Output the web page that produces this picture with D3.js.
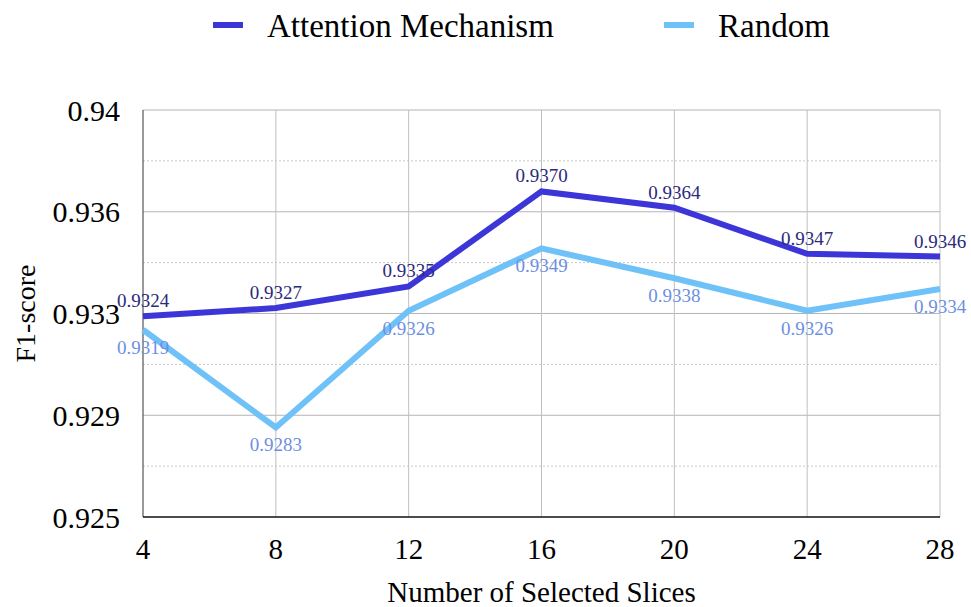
<!DOCTYPE html>
<html>
<head>
<meta charset="utf-8">
<script src="https://cdn.jsdelivr.net/npm/d3@7"></script>
<style>
body { margin: 0; background: #fff; }
svg text { font-family: "Liberation Serif", "Times New Roman", serif; }
</style>
</head>
<body>
<div id="chart"></div>
<script>
// data
var slices = [4, 8, 12, 16, 20, 24, 28];
var attention = [0.9324, 0.9327, 0.9335, 0.9370, 0.9364, 0.9347, 0.9346];
var random = [0.9319, 0.9283, 0.9326, 0.9349, 0.9338, 0.9326, 0.9334];
var yTicks = [0.925, 0.92875, 0.9325, 0.93625, 0.94];
var yTickLabels = ["0.925", "0.929", "0.933", "0.936", "0.94"];
var yMinor = [0.926875, 0.930625, 0.934375, 0.938125];

var width = 971, height = 607;
var plotLeft = 143, plotRight = 940, plotTop = 110, plotBottom = 517;

var svg = d3.select("#chart").append("svg")
	.attr("width", width)
	.attr("height", height);

var x = d3.scaleLinear().domain([4, 28]).range([plotLeft, plotRight]);
var y = d3.scaleLinear().domain([0.925, 0.94]).range([plotBottom, plotTop]);

// minor dotted grid
svg.selectAll("line.minor").data(yMinor).enter().append("line")
	.attr("class", "minor")
	.attr("x1", plotLeft).attr("x2", plotRight)
	.attr("y1", function(d) { return y(d); })
	.attr("y2", function(d) { return y(d); })
	.attr("stroke", "#c8c8c8")
	.attr("stroke-width", 1)
	.attr("stroke-dasharray", "2,2");

// major grid
svg.selectAll("line.hgrid").data(yTicks.slice(1)).enter().append("line")
	.attr("class", "hgrid")
	.attr("x1", plotLeft).attr("x2", plotRight)
	.attr("y1", function(d) { return y(d); })
	.attr("y2", function(d) { return y(d); })
	.attr("stroke", "#b4b4b4")
	.attr("stroke-width", 1);

svg.selectAll("line.vgrid").data(slices.slice(1)).enter().append("line")
	.attr("class", "vgrid")
	.attr("x1", function(d) { return x(d); })
	.attr("x2", function(d) { return x(d); })
	.attr("y1", plotTop).attr("y2", plotBottom)
	.attr("stroke", "#c0c0c0")
	.attr("stroke-width", 1);

// axes lines
svg.append("line")
	.attr("x1", plotLeft).attr("x2", plotLeft)
	.attr("y1", plotTop).attr("y2", plotBottom)
	.attr("stroke", "#555")
	.attr("stroke-width", 1.2);
svg.append("line")
	.attr("x1", plotLeft).attr("x2", plotRight)
	.attr("y1", plotBottom).attr("y2", plotBottom)
	.attr("stroke", "#111")
	.attr("stroke-width", 1.5);

// y tick labels
svg.selectAll("text.ytick").data(yTicks).enter().append("text")
	.attr("class", "ytick")
	.attr("x", 120)
	.attr("y", function(d) { return y(d); })
	.attr("dy", "0.35em")
	.attr("text-anchor", "end")
	.attr("font-size", 30)
	.attr("fill", "#000")
	.text(function(d, i) { return yTickLabels[i]; });

// x tick labels
svg.selectAll("text.xtick").data(slices).enter().append("text")
	.attr("class", "xtick")
	.attr("x", function(d) { return x(d); })
	.attr("y", 559)
	.attr("text-anchor", "middle")
	.attr("font-size", 29)
	.attr("fill", "#000")
	.text(function(d) { return d; });

// axis titles
svg.append("text")
	.attr("x", (plotLeft + plotRight) / 2)
	.attr("y", 602)
	.attr("text-anchor", "middle")
	.attr("font-size", 29)
	.text("Number of Selected Slices");

svg.append("text")
	.attr("transform", "translate(35," + ((plotTop + plotBottom) / 2) + ") rotate(-90)")
	.attr("text-anchor", "middle")
	.attr("font-size", 28)
	.text("F1-score");

var line = d3.line()
	.x(function(d, i) { return x(slices[i]); })
	.y(function(d) { return y(d); });

var series = [
	{ name: "Attention Mechanism", values: attention, color: "#3c35d8", labelColor: "#2b2a7c", dy: -9 },
	{ name: "Random", values: random, color: "#6fc2f8", labelColor: "#6d8fe3", dy: 24 }
];

series.forEach(function(s) {
	svg.append("path")
		.datum(s.values)
		.attr("d", line)
		.attr("fill", "none")
		.attr("stroke", s.color)
		.attr("stroke-width", 6)
		.attr("stroke-linejoin", "miter");
});

// value labels drawn after both lines
series.forEach(function(s) {
	svg.selectAll(null).data(s.values).enter().append("text")
		.attr("x", function(d, i) { return x(slices[i]); })
		.attr("y", function(d) { return y(d) + s.dy; })
		.attr("text-anchor", "middle")
		.attr("font-size", 19)
		.attr("fill", s.labelColor)
		.text(function(d) { return d.toFixed(4); });
});

// legend
var legendX = [213, 664];
series.forEach(function(s, i) {
	svg.append("line")
		.attr("x1", legendX[i]).attr("x2", legendX[i] + 30)
		.attr("y1", 25).attr("y2", 25)
		.attr("stroke", s.color)
		.attr("stroke-width", 6);
	svg.append("text")
		.attr("x", legendX[i] + 54)
		.attr("y", 25)
		.attr("dy", "0.35em")
		.attr("font-size", 33)
		.text(s.name);
});
</script>
</body>
</html>
